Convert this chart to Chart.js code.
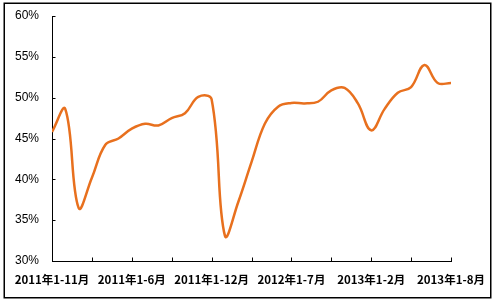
<!DOCTYPE html>
<html>
<head>
<meta charset="utf-8">
<script src="https://cdn.jsdelivr.net/npm/chart.js@4/dist/chart.umd.min.js"></script>
<style>
html,body{margin:0;padding:0;background:#fff;}
#wrap{position:relative;width:498px;height:301px;}
</style>
</head>
<body>
<div id="wrap"><canvas id="c" width="498" height="301"></canvas></div>
<script>
// Tick labels on the category axis (every 6th category)
const xTickLabels = ['2011年1-11月', '2011年1-6月', '2011年1-12月', '2012年1-7月', '2013年1-2月', '2013年1-8月'];
// Series values (%), 31 consecutive periods
const values = [
  45.8, 48.6, 36.5, 40.2, 44.2, 45.0, 46.2, 46.8, 46.6, 47.5,
  48.1, 50.1, 49.8, 33.1, 37.2, 42.1, 46.8, 48.9, 49.35, 49.3,
  49.5, 50.9, 51.2, 49.3, 46.0, 48.6, 50.6, 51.3, 54.0, 51.8,
  51.8
];
const yTicks = [30, 35, 40, 45, 50, 55, 60];

const points = values.map((v, i) => ({x: i, y: v}));

const frame = {
  id: 'frame',
  beforeDraw(chart) {
    const ctx = chart.ctx;
    ctx.save();
    ctx.fillStyle = '#fff';
    ctx.fillRect(0, 0, chart.width, chart.height);
    ctx.strokeStyle = '#000';
    ctx.lineWidth = 1.5;
    ctx.strokeRect(4.25, 3.25, 486.5, 294.5);
    ctx.restore();
  },
  afterDraw(chart) {
    const ctx = chart.ctx;
    const xs = chart.scales.x, ys = chart.scales.y;
    ctx.save();
    ctx.strokeStyle = '#000';
    ctx.lineWidth = 1;
    ctx.beginPath();
    xs.ticks.forEach((t, i) => {
      const px = Math.round(xs.getPixelForTick(i)) + 0.5;
      ctx.moveTo(px, ys.bottom);
      ctx.lineTo(px, ys.bottom - 3.5);
    });
    ys.ticks.forEach((t, i) => {
      const py = Math.round(ys.getPixelForTick(i)) + 0.5;
      ctx.moveTo(xs.left, py);
      ctx.lineTo(xs.left + 3.5, py);
    });
    ctx.stroke();
    ctx.restore();
  }
};

new Chart(document.getElementById('c'), {
  type: 'line',
  data: {
    datasets: [{
      data: points,
      borderColor: '#E8701E',
      borderWidth: 2.5,
      pointRadius: 0,
      tension: 0.4,
      fill: false
    }]
  },
  options: {
    responsive: false,
    animation: false,
    events: [],
    layout: {padding: {left: 0, right: 47, top: 16, bottom: 6}},
    plugins: {legend: {display: false}, tooltip: {enabled: false}},
    scales: {
      x: {
        type: 'linear',
        min: 0,
        max: values.length - 1,
        afterBuildTicks(scale) {
          const t = [];
          for (let v = 0; v <= values.length - 1; v += 3) t.push({value: v});
          scale.ticks = t;
        },
        afterFit(scale) {
          scale.height = 34;
          scale.paddingLeft = 0;
          scale.paddingRight = 0;
        },
        grid: {display: false, drawTicks: false},
        border: {display: true, color: '#000', width: 1},
        ticks: {
          autoSkip: false,
          maxRotation: 0,
          padding: 12,
          color: '#000',
          font: {family: '"Noto Sans CJK SC"', size: 11.5, weight: 'bold'},
          callback: (v) => (v % 6 === 0 ? xTickLabels[v / 6] : '')
        }
      },
      y: {
        min: yTicks[0],
        max: yTicks[yTicks.length - 1],
        afterBuildTicks(scale) { scale.ticks = yTicks.map(v => ({value: v})); },
        afterFit(scale) {
          scale.width = 52;
          scale.paddingTop = 0;
          scale.paddingBottom = 0;
        },
        grid: {display: false, drawTicks: false},
        border: {display: true, color: '#000', width: 1},
        ticks: {
          padding: 13,
          color: '#000',
          font: {family: '"Liberation Sans"', size: 12},
          callback: (v) => v + '%'
        }
      }
    }
  },
  plugins: [frame]
});
</script>
</body>
</html>
